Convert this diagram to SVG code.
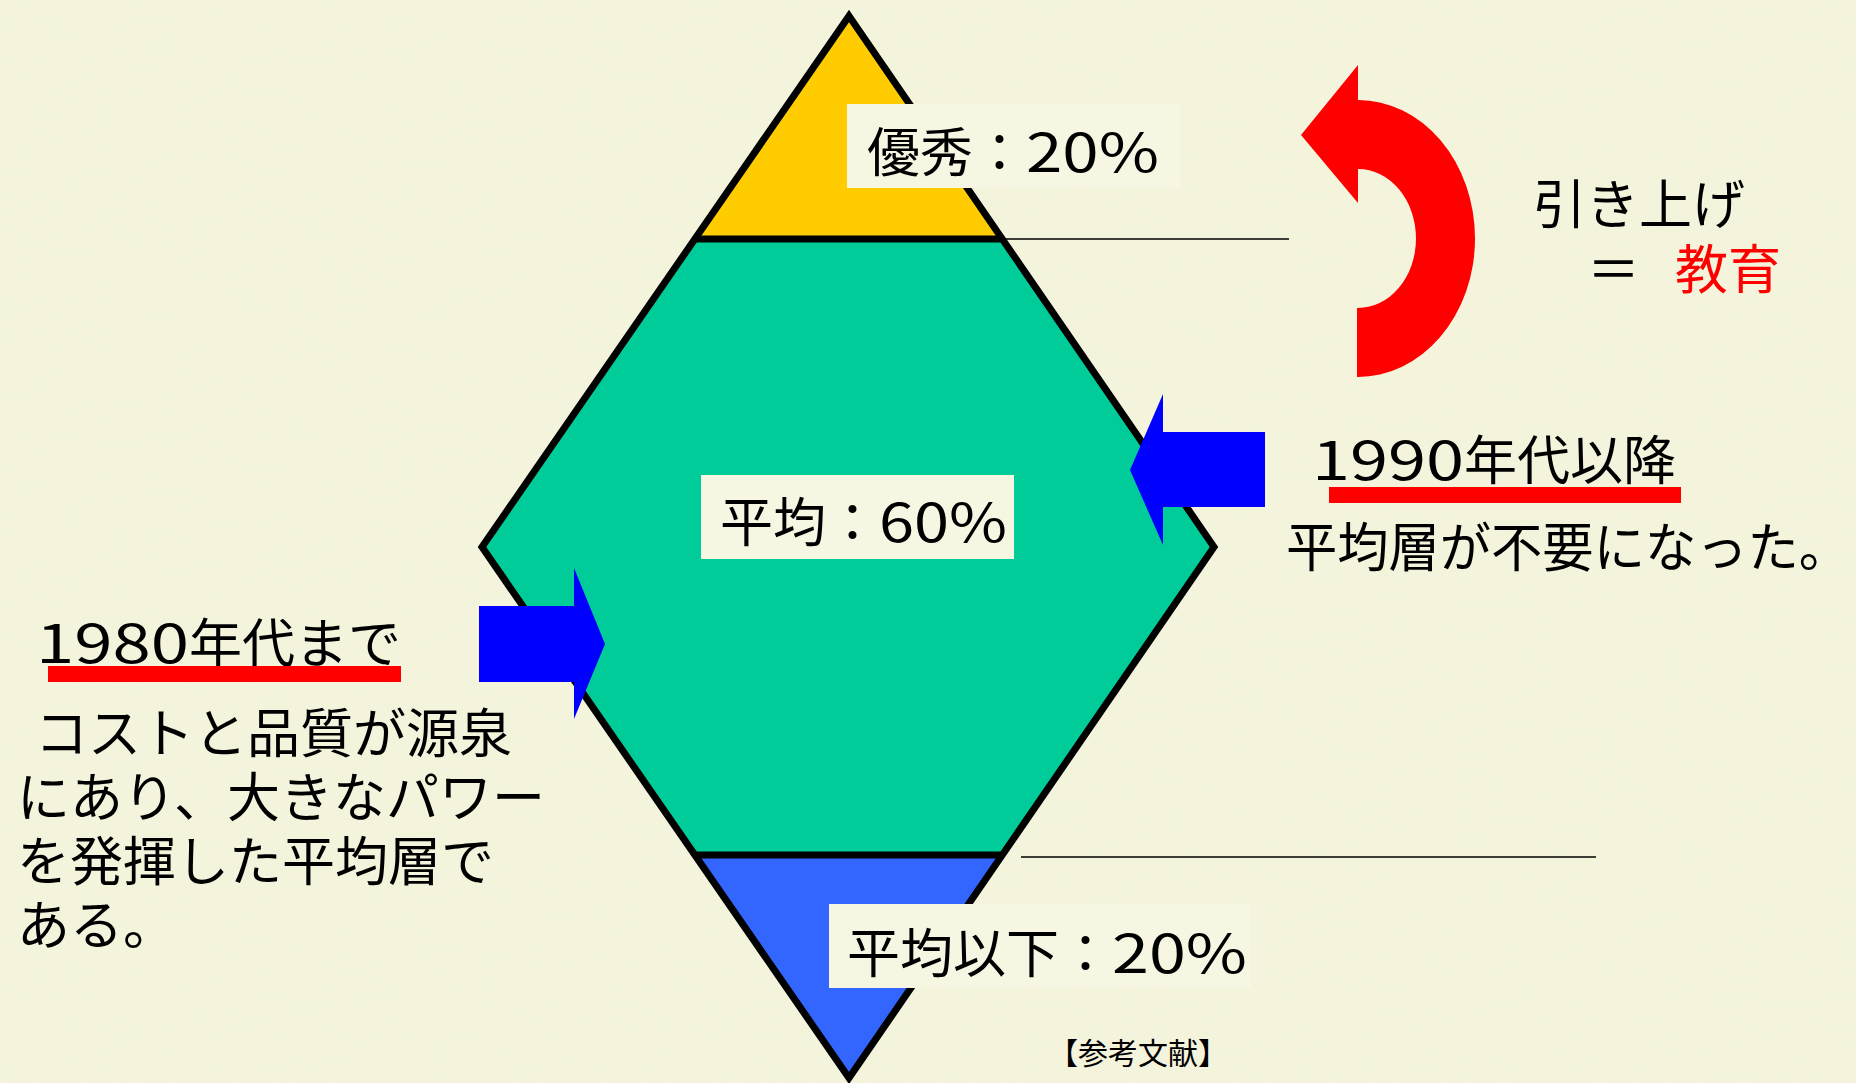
<svg xmlns="http://www.w3.org/2000/svg" width="1856" height="1083" viewBox="0 0 1856 1083">
<defs>
<style>
.t{font-family:"Noto Sans CJK JP","Noto Sans CJK SC",sans-serif;font-size:53px;fill:#000}
.small{font-size:30px}
.box{fill:#F7F6E2}
.red{fill:#FF0000}
.blue{fill:#0000FF}
.edge{fill:none;stroke:#000;stroke-width:7;stroke-linejoin:miter;stroke-miterlimit:10}
.thin{stroke:#000;stroke-width:1.6}
</style>
<filter id="paper" x="0" y="0" width="100%" height="100%">
<feTurbulence type="fractalNoise" baseFrequency="0.35" numOctaves="2" seed="3" result="n"/>
<feColorMatrix in="n" type="matrix" values="0 0 0 0 0.85  0 0 0 0 0.83  0 0 0 0 0.7  0 0 0 0.18 0"/>
</filter>
</defs>
<rect width="1856" height="1083" fill="#F5F4DC"/>
<rect width="1856" height="1083" filter="url(#paper)"/>

<g id="diamond">
<polygon id="top-layer" points="849,16 1002,239 696,239" fill="#FFCC00"/>
<polygon id="middle-layer" points="696,239 1002,239 1214,547 1002,855 696,855 482,547" fill="#00CC99"/>
<polygon id="bottom-layer" points="696,855 1002,855 849,1078" fill="#3366FF"/>
<polygon class="edge" points="849,16 1214,547 849,1078 482,547"/>
<line class="edge" x1="696" y1="239" x2="1002" y2="239"/>
<line class="edge" x1="696" y1="855" x2="1002" y2="855"/>
</g>

<g id="connectors">
<line class="thin" x1="1004" y1="239" x2="1289" y2="239"/>
<line class="thin" x1="1021" y1="857" x2="1596" y2="857"/>
<polygon id="arrow-left-in" class="blue" points="479,606 574,606 574,568 605,644 574,719 574,682 479,682"/>
<polygon id="arrow-right-in" class="blue" points="1265,432 1163,432 1163,394 1130,470 1163,545 1163,507 1265,507"/>
<path id="arrow-lift" class="red" d="M1358,65 L1358,100 A117,138.5 0 0 1 1475,238.5 A117,138.5 0 0 1 1357,377 L1357,308 A58,69.5 0 0 0 1416,238.5 A58,69.5 0 0 0 1358,169 L1358,203 L1301,135 Z"/>
</g>

<g id="label-excellent">
<rect class="box" x="847" y="104" width="333" height="84"/>
<text class="t" x="867" y="172">優秀：<tspan textLength="133" lengthAdjust="spacingAndGlyphs">20%</tspan></text>
</g>

<g id="label-average">
<rect class="box" x="701" y="475" width="313" height="84"/>
<text class="t" x="720" y="542">平均：<tspan textLength="128" lengthAdjust="spacingAndGlyphs">60%</tspan></text>
</g>

<g id="label-below">
<rect class="box" x="829" y="904" width="422" height="84"/>
<text class="t" x="847" y="973">平均以下：<tspan textLength="135" lengthAdjust="spacingAndGlyphs">20%</tspan></text>
</g>

<g id="note-lift">
<text class="t" x="1533" y="224">引き上げ</text>
<text class="t" x="1587" y="289">＝<tspan x="1675" class="red">教育</tspan></text>
</g>

<g id="note-1990">
<text class="t" x="1312" y="480"><tspan textLength="152" lengthAdjust="spacingAndGlyphs">1990</tspan>年代以降</text>
<rect class="red" x="1329" y="487" width="352" height="16"/>
<text class="t" x="1286" y="567" textLength="564" lengthAdjust="spacingAndGlyphs">平均層が不要になった。</text>
</g>

<g id="note-1980">
<text class="t" x="36" y="663"><tspan textLength="153" lengthAdjust="spacingAndGlyphs">1980</tspan>年代まで</text>
<rect class="red" x="48" y="666" width="353" height="16"/>
<text class="t"><tspan x="35" y="753">コストと品質が源泉</tspan><tspan x="17" y="817">にあり、大きなパワー</tspan><tspan x="17" y="881">を発揮した平均層で</tspan><tspan x="17" y="945">ある。</tspan></text>
</g>

<g id="reference">
<text class="t small" x="1048" y="1064">【参考文献】</text>
</g>
</svg>
